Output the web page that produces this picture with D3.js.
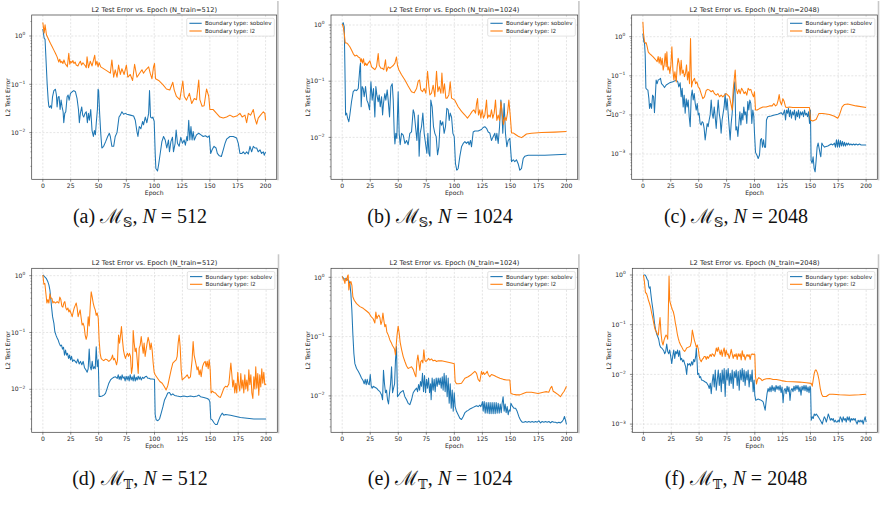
<!DOCTYPE html>
<html lang="en">
<head>
<meta charset="utf-8" />
<title>L2 Test Error vs. Epoch</title>
<script src="https://cdn.jsdelivr.net/npm/d3@7"></script>
<style>
  body { margin: 0; background: #fff; }
  svg { display: block; }
  text { font-family: "DejaVu Sans", sans-serif; fill: #262626; }
  .cap, .cap text { font-family: "Liberation Serif", "DejaVu Serif", serif; fill: #111; }
</style>
</head>
<body>
<svg id="fig" width="885" height="515"></svg>
<script>
// ---- data (epoch, L2 test error) ----
const titles = [
  "L2 Test Error vs. Epoch (N_train=512)",
  "L2 Test Error vs. Epoch (N_train=1024)",
  "L2 Test Error vs. Epoch (N_train=2048)",
  "L2 Test Error vs. Epoch (N_train=512)",
  "L2 Test Error vs. Epoch (N_train=1024)",
  "L2 Test Error vs. Epoch (N_train=2048)"
];
const capTags = ["(a)", "(b)", "(c)", "(d)", "(e)", "(f)"];
const capSets = ["𝕊", "𝕊", "𝕊", "𝕋", "𝕋", "𝕋"];
const capN = ["512", "1024", "2048", "512", "1024", "2048"];
const seriesNames = ["Boundary type: sobolev", "Boundary type: l2"];
const xTicks = [0, 25, 50, 75, 100, 125, 150, 175, 200];

const sobolevA = [[0,1.4],[1.2,0.9],[2,0.85],[3.9,0.1],[4.8,0.047],[5.4,0.035],[6,0.033],[6.9,0.036],[7.8,0.032],[8.7,0.055],[9.9,0.074],[11.3,0.079],[12.2,0.06],[12.8,0.034],[13.7,0.054],[14.6,0.056],[15.5,0.03],[16.4,0.047],[17.3,0.034],[18.2,0.027],[18.8,0.016],[19.7,0.025],[20.6,0.027],[21.8,0.055],[22.7,0.06],[23.6,0.047],[24.8,0.065],[26.3,0.07],[27.8,0.074],[29.3,0.07],[30.7,0.051],[32,0.03],[32.8,0.016],[33.7,0.025],[34.9,0.034],[35.8,0.023],[36.7,0.021],[37.9,0.025],[39,0.027],[40,0.016],[40.9,0.025],[41.8,0.018],[43,0.03],[44.2,0.011],[45.4,0.0083],[46.3,0.011],[47.2,0.009],[48,0.016],[49,0.03],[49.6,0.079],[50.1,0.074],[51,0.025],[52,0.0097],[53,0.0048],[54.6,0.0052],[56.4,0.0065],[58.2,0.0083],[59.7,0.0097],[60.6,0.0083],[62,0.0052],[63.6,0.0052],[65,0.0083],[66.6,0.01],[68.4,0.021],[69.6,0.023],[71,0.027],[72.5,0.024],[74,0.025],[75.5,0.024],[78.5,0.023],[81.5,0.022],[83,0.018],[84.5,0.0105],[85.4,0.0083],[86.6,0.0134],[88,0.012],[89.6,0.017],[90.4,0.0145],[92,0.021],[93.4,0.016],[95,0.025],[95.8,0.074],[96.7,0.021],[97.9,0.02],[98.8,0.021],[100,0.017],[100.9,0.0037],[101.5,0.0018],[103,0.0016],[104,0.0022],[105.4,0.0037],[106.9,0.0065],[108.4,0.0083],[109.9,0.007],[111.3,0.0048],[112.8,0.007],[113.7,0.004],[115,0.0065],[116.4,0.008],[117.3,0.004],[118.8,0.006],[119.7,0.0113],[120.9,0.006],[122.4,0.0052],[123.9,0.008],[125.4,0.006],[126.9,0.007],[128,0.0055],[129.3,0.0083],[130,0.0068],[131,0.018],[132,0.007],[133,0.0134],[134,0.007],[135,0.0105],[136,0.007],[138,0.009],[140,0.0097],[142,0.009],[144,0.0083],[146,0.0086],[148,0.008],[149.5,0.0086],[150.7,0.0037],[152,0.0044],[153.7,0.0052],[155.5,0.0048],[156.7,0.0037],[158.5,0.0033],[160.3,0.0032],[162,0.0044],[163.6,0.006],[165,0.0073],[168,0.0083],[171,0.0083],[174,0.0077],[175.5,0.006],[177,0.0037],[178.8,0.0037],[180,0.004],[181.5,0.0036],[183,0.004],[184.5,0.0036],[186,0.0052],[187.5,0.004],[189,0.0052],[190.4,0.0048],[192,0.0048],[193.4,0.004],[195,0.0044],[196.4,0.0037],[198,0.004],[198.8,0.0034],[200,0.004]];
const l2A = [[0,1.9],[1.2,1.15],[2,1.7],[3.3,1.05],[4.2,0.95],[5.4,0.83],[6.9,0.7],[8.4,0.6],[9.9,0.51],[11.3,0.44],[12.8,0.37],[14.3,0.29],[15.2,0.33],[16.1,0.28],[17,0.3],[18,0.27],[19,0.32],[20,0.27],[21,0.25],[22,0.23],[23.3,0.44],[24.2,0.26],[25.1,0.3],[26,0.28],[27,0.31],[28,0.27],[29,0.29],[30,0.25],[31.5,0.24],[32.5,0.27],[33.7,0.3],[34.8,0.25],[36,0.28],[37,0.26],[38.2,0.24],[39,0.22],[39.7,0.37],[41,0.22],[42.6,0.3],[44.2,0.24],[46.6,0.4],[47.5,0.25],[48.6,0.3],[49.6,0.23],[50.6,0.28],[52,0.23],[57.6,0.19],[60.6,0.17],[62,0.32],[63.6,0.14],[65,0.2],[66.6,0.14],[68,0.25],[69.6,0.16],[71,0.21],[73,0.16],[75,0.25],[76.4,0.14],[78.5,0.16],[80.6,0.12],[82.4,0.26],[84.5,0.14],[86.9,0.17],[89,0.2],[90.4,0.17],[92.5,0.2],[95,0.23],[96.4,0.17],[98,0.13],[99.4,0.23],[100.3,0.27],[101.2,0.13],[104,0.12],[108,0.097],[111,0.08],[114,0.076],[116.7,0.11],[118,0.076],[120,0.056],[123,0.048],[125.7,0.117],[127,0.056],[129,0.047],[131.6,0.065],[133.7,0.04],[136,0.051],[138,0.048],[140,0.123],[141,0.048],[143,0.035],[144.8,0.036],[147,0.08],[149,0.056],[150,0.03],[153,0.03],[156,0.025],[159,0.021],[162,0.02],[165,0.021],[168,0.023],[171,0.021],[174,0.022],[177,0.025],[179,0.021],[181.5,0.023],[183,0.016],[184.5,0.025],[186.6,0.023],[189,0.03],[190.4,0.02],[192,0.015],[193.4,0.02],[195.5,0.023],[198,0.027],[199.4,0.025],[200,0.018]];

const sobolevB = [[0,1.0],[0.9,1.1],[1.8,0.93],[2.4,0.18],[3,0.025],[3.9,0.027],[4.8,0.022],[5.9,0.019],[6.8,0.025],[8.3,0.043],[9.8,0.065],[11.3,0.07],[12.8,0.068],[14.3,0.074],[15.8,0.18],[16.3,0.21],[16.9,0.035],[17.8,0.08],[18.7,0.074],[19.6,0.053],[20.8,0.08],[22,0.046],[23.2,0.04],[24.4,0.031],[25.6,0.098],[26.7,0.046],[27.9,0.074],[29.1,0.023],[30,0.08],[30.9,0.057],[32.1,0.043],[33,0.057],[33.9,0.035],[35.1,0.053],[36,0.025],[36.8,0.04],[38,0.06],[38.9,0.046],[40.1,0.07],[41,0.046],[42.2,0.023],[43.4,0.08],[44.6,0.09],[45.5,0.046],[46.4,0.0118],[47,0.0076],[47.8,0.0118],[48.7,0.0096],[49.9,0.065],[50.8,0.0118],[51.7,0.0074],[52.9,0.0118],[54.4,0.011],[55.9,0.0078],[57.4,0.0088],[58.8,0.0074],[60.3,0.0118],[61.8,0.0125],[63.3,0.031],[64.2,0.027],[65.4,0.0155],[66.6,0.0088],[67.8,0.025],[68.6,0.0046],[69.5,0.0118],[70.7,0.0155],[71.9,0.027],[73.1,0.0118],[74.3,0.0078],[75.5,0.0052],[76.4,0.0118],[77.3,0.0052],[78.2,0.0046],[79,0.046],[80.2,0.035],[81.4,0.0155],[82.6,0.0118],[83.8,0.0103],[85,0.0049],[86.2,0.0068],[87.4,0.02],[88.6,0.0165],[89.7,0.019],[90.9,0.0118],[92.1,0.0155],[93.3,0.033],[94.5,0.031],[95.4,0.02],[96.3,0.027],[97.5,0.023],[98.7,0.0118],[99.9,0.0103],[101,0.0034],[102.2,0.0026],[103.4,0.0028],[104.9,0.0046],[106.4,0.0068],[107.9,0.0078],[109.4,0.0084],[110.8,0.0078],[112.3,0.0084],[113.2,0.0074],[114.4,0.0088],[115.3,0.0068],[116.8,0.0125],[118.3,0.013],[121.2,0.013],[124.2,0.0138],[125.7,0.015],[127.2,0.0155],[128.7,0.0145],[130.2,0.0125],[131.6,0.012],[133.1,0.0088],[134.6,0.0103],[136.1,0.0118],[137,0.0088],[137.9,0.0118],[139.1,0.0078],[140.3,0.0155],[141.5,0.046],[142.3,0.031],[143.2,0.0118],[144.4,0.04],[145.6,0.0118],[146.8,0.0068],[148,0.0088],[149.5,0.0096],[151,0.0037],[152.5,0.004],[153.9,0.0037],[155.4,0.004],[156.9,0.0034],[158.4,0.0026],[159.9,0.0028],[161.4,0.0042],[162.8,0.0046],[165.8,0.0048],[180.7,0.0048],[200,0.005]];
const l2B = [[0,1.04],[0.9,0.93],[1.8,0.71],[2.7,0.48],[3.9,0.48],[5.3,0.45],[6.8,0.41],[8.3,0.36],[9.8,0.31],[11.3,0.28],[12.8,0.29],[14.3,0.27],[15.8,0.26],[16.6,0.22],[17.2,0.25],[18.1,0.21],[19,0.25],[19.9,0.19],[20.8,0.21],[22,0.19],[23.2,0.21],[24.7,0.23],[26.2,0.18],[27.6,0.17],[29.1,0.16],[30.6,0.18],[32.1,0.31],[33,0.19],[34.5,0.17],[35.7,0.17],[37.1,0.16],[38.6,0.24],[39.5,0.15],[41,0.18],[42.5,0.17],[44,0.18],[45.5,0.19],[47,0.21],[48.4,0.27],[49.3,0.19],[50.5,0.16],[52.9,0.13],[55.9,0.105],[58.8,0.082],[61.8,0.065],[64.2,0.062],[66.3,0.074],[67.8,0.1],[69,0.105],[70.1,0.07],[71.6,0.065],[73.1,0.074],[74.6,0.061],[76.1,0.15],[77.3,0.08],[78.2,0.057],[79.6,0.061],[81.1,0.085],[82.6,0.053],[84.1,0.15],[85.3,0.065],[86.5,0.08],[88,0.061],[88.9,0.14],[90,0.061],[91.2,0.09],[92.4,0.05],[93.6,0.05],[95.1,0.057],[96.3,0.098],[97.5,0.05],[99,0.048],[100.4,0.046],[103.4,0.035],[106.4,0.029],[109.4,0.025],[111.7,0.022],[113.8,0.025],[115.9,0.029],[117.4,0.031],[118.9,0.027],[119.8,0.04],[120.7,0.049],[121.5,0.025],[122.7,0.031],[123.6,0.022],[124.8,0.031],[126,0.022],[127.2,0.025],[128.7,0.046],[129.6,0.022],[130.8,0.025],[132,0.023],[133.1,0.031],[134.3,0.022],[135.5,0.027],[136.7,0.046],[137.9,0.02],[139.1,0.025],[140.3,0.02],[141.5,0.043],[142.6,0.027],[143.8,0.017],[145,0.023],[146.2,0.02],[147.4,0.027],[148.6,0.046],[149.8,0.025],[151,0.012],[152.5,0.012],[153.9,0.0115],[156.9,0.0105],[159.9,0.0099],[162.3,0.0107],[164.3,0.0115],[168.8,0.0118],[177.7,0.0122],[189.6,0.0124],[200,0.0127]];

const sobolevC = [[0,1.2],[0.9,0.74],[1.5,0.68],[2.1,0.34],[2.7,0.048],[3.6,0.045],[4.5,0.043],[5.4,0.026],[6,0.0147],[6.9,0.0196],[7.8,0.0147],[8.7,0.032],[9.6,0.029],[10.4,0.0114],[11.3,0.035],[11.9,0.078],[12.8,0.063],[13.7,0.078],[14.9,0.081],[15.8,0.086],[16.7,0.063],[17.9,0.058],[19.4,0.05],[20.9,0.058],[23.9,0.066],[26.9,0.07],[29.9,0.078],[31.3,0.07],[32.2,0.052],[33.4,0.066],[34.3,0.029],[35.2,0.048],[36.1,0.016],[37,0.032],[37.9,0.011],[38.8,0.026],[39.7,0.016],[40.6,0.024],[41.5,0.009],[42.4,0.005],[43.3,0.029],[44.2,0.043],[45.1,0.024],[46,0.035],[46.9,0.0196],[47.8,0.0133],[48.7,0.0196],[49.6,0.01],[50.4,0.011],[51.3,0.006],[52.2,0.0055],[53.1,0.0067],[54,0.0063],[54.9,0.0045],[55.8,0.0023],[56.7,0.0037],[57.6,0.006],[58.5,0.005],[59.4,0.0074],[60.3,0.01],[61.2,0.024],[62.1,0.011],[63,0.0082],[63.9,0.016],[64.8,0.009],[65.7,0.0045],[66.6,0.011],[67.5,0.024],[68.4,0.011],[69.3,0.0074],[70.1,0.0034],[71,0.0074],[71.9,0.011],[72.8,0.016],[73.7,0.035],[74.6,0.0133],[75.5,0.026],[76.4,0.011],[77.3,0.005],[78.2,0.0023],[79.1,0.006],[80,0.011],[80.9,0.024],[81.8,0.058],[82.4,0.07],[83.3,0.0041],[84.2,0.005],[85.1,0.0028],[86,0.006],[86.9,0.012],[87.8,0.0055],[88.7,0.011],[89.6,0.0074],[90.4,0.016],[91.3,0.01],[92.2,0.012],[93.1,0.006],[94,0.022],[94.9,0.0133],[95.8,0.024],[96.7,0.0196],[97.6,0.006],[98.5,0.0133],[99.4,0.009],[100,0.0034],[100.9,0.0011],[102.1,0.00094],[103.3,0.00077],[104.5,0.00094],[105.4,0.0023],[106.3,0.0025],[107.2,0.0015],[108.1,0.0023],[109,0.0015],[109.9,0.0015],[110.7,0.0074],[111.9,0.009],[114.9,0.0094],[117.9,0.01],[120.9,0.0104],[123.9,0.0114],[125.4,0.01],[126.9,0.0133],[127.8,0.0074],[128.7,0.0133],[129.6,0.011],[130.4,0.0147],[131.3,0.009],[132.2,0.0133],[133.1,0.0082],[134,0.012],[134.9,0.01],[135.8,0.0133],[136.7,0.0074],[137.6,0.012],[138.5,0.009],[139.4,0.0133],[140.3,0.0082],[141.2,0.012],[142.1,0.01],[143,0.012],[143.9,0.009],[144.8,0.0133],[145.7,0.01],[146.6,0.011],[147.5,0.009],[148.4,0.012],[149.3,0.006],[150.1,0.0133],[150.7,0.00068],[151.6,0.00058],[152.5,0.00085],[153.4,0.00043],[154.3,0.00035],[155.2,0.00068],[156.1,0.0015],[157,0.0019],[157.9,0.0014],[158.8,0.001],[159.4,0.00085],[160.3,0.0019],[161.2,0.0017],[162.7,0.0015],[165.7,0.0016],[168.7,0.0018],[170.1,0.0017],[171.6,0.0019],[172.5,0.0015],[173.4,0.0023],[174.3,0.0015],[175.2,0.0023],[176.1,0.0015],[177,0.0022],[177.9,0.0016],[178.8,0.0021],[179.7,0.0016],[180.6,0.002],[181.5,0.0016],[182.4,0.0019],[183.3,0.0017],[184.2,0.0019],[185.1,0.0017],[186.3,0.0018],[187.5,0.0017],[188.7,0.0018],[189.9,0.0017],[191,0.0018],[192.5,0.0017],[194,0.0018],[195.5,0.0017],[197.6,0.0017],[200,0.0017]];
const l2C = [[0,2.4],[0.6,1.2],[1.5,0.74],[2.4,0.68],[3,0.7],[3.9,0.55],[4.8,0.41],[6,0.37],[7.5,0.34],[9,0.31],[10.4,0.28],[11.9,0.25],[12.8,0.23],[13.7,0.31],[14.6,0.21],[15.5,0.3],[16.4,0.19],[17.3,0.28],[18.2,0.14],[19.1,0.19],[20,0.37],[20.9,0.17],[21.5,0.41],[22.4,0.14],[23.3,0.17],[24.2,0.115],[25.1,0.19],[26,0.55],[26.9,0.14],[27.8,0.078],[28.7,0.127],[29.9,0.07],[30.7,0.17],[31.6,0.28],[32.5,0.21],[33.4,0.105],[34.3,0.25],[35.2,0.115],[36.1,0.14],[37.3,0.095],[38.2,0.115],[39.1,0.19],[40,0.078],[40.9,0.127],[41.8,0.063],[42.7,0.9],[43.6,0.052],[44.5,0.07],[45.4,0.078],[46.3,0.086],[47.2,0.063],[48.4,0.07],[49.6,0.052],[50.7,0.048],[52.2,0.035],[53.7,0.026],[55.2,0.029],[56.7,0.042],[58.2,0.045],[59.7,0.043],[61.2,0.039],[62.7,0.042],[64.2,0.035],[65.7,0.032],[67.2,0.035],[68.7,0.029],[70.1,0.032],[71.6,0.029],[73.1,0.032],[74.6,0.035],[76.1,0.032],[77.6,0.029],[78.8,0.0196],[80,0.0133],[80.9,0.043],[81.8,0.078],[82.7,0.14],[83.6,0.048],[84.8,0.035],[86,0.045],[87.2,0.035],[88.4,0.048],[89.6,0.042],[90.7,0.035],[91.9,0.039],[93.1,0.032],[94.3,0.048],[95.5,0.043],[96.7,0.045],[97.9,0.035],[99.1,0.029],[100,0.039],[100.9,0.0133],[102.4,0.0133],[104.5,0.0145],[107.5,0.016],[110.4,0.016],[113.4,0.017],[115.8,0.017],[117.3,0.0196],[118.8,0.017],[120,0.018],[121.2,0.024],[122.1,0.033],[123,0.022],[124.2,0.018],[125.4,0.026],[126.6,0.022],[127.8,0.016],[129,0.0155],[131.3,0.016],[134.3,0.0155],[140,0.0155],[149.3,0.0155],[150.1,0.0074],[152.2,0.007],[155.2,0.0076],[157.6,0.0108],[161.2,0.0108],[167.2,0.0103],[171.6,0.0092],[174.6,0.0082],[176.1,0.01],[178.5,0.016],[180.6,0.0185],[183.6,0.019],[191,0.017],[200,0.0155]];

const sobolevD = [[0,1.03],[1.5,0.96],[3,0.9],[4.5,0.78],[5.4,0.69],[6.3,0.56],[6.9,0.43],[7.8,0.28],[8.7,0.19],[9.9,0.145],[10.7,0.104],[11.9,0.088],[12.8,0.08],[13.7,0.074],[14.6,0.065],[15.8,0.058],[16.7,0.06],[17.6,0.051],[18.5,0.055],[19.4,0.04],[20.3,0.049],[21.2,0.04],[22.1,0.043],[23,0.035],[23.9,0.04],[24.8,0.033],[25.7,0.038],[26.6,0.031],[27.8,0.033],[29,0.031],[30.1,0.029],[31.3,0.034],[32.5,0.028],[33.7,0.031],[34.9,0.027],[36.1,0.031],[37.3,0.024],[38.5,0.022],[39.7,0.02],[40.6,0.023],[41.5,0.051],[42.4,0.025],[43.3,0.022],[44.2,0.031],[45.1,0.023],[46,0.025],[46.9,0.023],[47.8,0.056],[48.7,0.025],[49.6,0.033],[50.4,0.0075],[51.6,0.0075],[53.1,0.0076],[54.6,0.0079],[56.1,0.0085],[57.6,0.0104],[59.1,0.0128],[60.6,0.0146],[62.1,0.0156],[63.6,0.0163],[65.1,0.0166],[66.6,0.0156],[67.5,0.018],[68.4,0.015],[69.3,0.017],[70.1,0.0146],[71,0.018],[71.9,0.0156],[72.8,0.0166],[73.7,0.014],[74.6,0.017],[75.5,0.0146],[76.4,0.017],[77.3,0.014],[78.2,0.018],[79.1,0.0146],[80,0.0166],[80.9,0.014],[81.8,0.018],[82.7,0.014],[83.6,0.0163],[84.5,0.0146],[85.4,0.017],[86.3,0.015],[87.2,0.0166],[88.1,0.0146],[89.3,0.0163],[90.4,0.0156],[91.6,0.0166],[92.8,0.017],[94,0.0156],[95.2,0.0156],[96.4,0.0152],[97.9,0.0152],[99.4,0.015],[100,0.015],[100.6,0.0036],[101.5,0.0029],[103,0.0028],[104.5,0.003],[106,0.0038],[107.5,0.0049],[109,0.0065],[110.4,0.0074],[111.9,0.0086],[113.4,0.0088],[114.9,0.0079],[116.4,0.0083],[117.9,0.0078],[120.3,0.0076],[123.3,0.0074],[126.3,0.0076],[129.3,0.0074],[132.2,0.0076],[135.2,0.0074],[138.2,0.0076],[139.7,0.0079],[141.2,0.0074],[144.2,0.0072],[147.2,0.0069],[148.7,0.0066],[149.6,0.006],[150.4,0.003],[151.6,0.0029],[153.1,0.0026],[154.6,0.0024],[156.1,0.0024],[157.6,0.0029],[159.1,0.0034],[160.6,0.0038],[162.1,0.0035],[163.6,0.0036],[168.1,0.0035],[171,0.0034],[177,0.0032],[183,0.0031],[189,0.003],[194.9,0.003],[200,0.003]];
const l2D = [[0,1.03],[0.9,0.71],[1.8,0.73],[2.7,0.49],[3.6,0.33],[4.5,0.38],[5.4,0.33],[6.3,0.48],[7.2,0.4],[8.1,0.4],[9,0.33],[9.9,0.35],[11.3,0.33],[12.8,0.35],[14.3,0.33],[15.2,0.42],[16.1,0.38],[17,0.29],[17.9,0.28],[18.8,0.33],[19.7,0.35],[20.6,0.27],[21.5,0.25],[22.4,0.27],[23.3,0.23],[24.2,0.25],[25.1,0.22],[26.3,0.19],[27.2,0.23],[28.1,0.27],[29,0.3],[29.9,0.33],[30.7,0.27],[31.6,0.19],[32.5,0.22],[33.4,0.25],[34.3,0.18],[35.2,0.135],[36.1,0.145],[37,0.127],[37.9,0.09],[38.8,0.076],[39.7,0.09],[40.6,0.19],[41.5,0.13],[42.4,0.28],[43.3,0.52],[44.2,0.42],[45.1,0.33],[46,0.28],[46.9,0.25],[47.8,0.2],[48.7,0.22],[49.6,0.18],[50.4,0.074],[51.3,0.043],[52.2,0.035],[53.4,0.033],[54.6,0.032],[56.1,0.034],[57.6,0.033],[59.1,0.031],[60.6,0.033],[61.5,0.035],[62.4,0.04],[63.3,0.033],[64.2,0.035],[65.1,0.031],[66,0.027],[66.9,0.033],[67.8,0.09],[68.7,0.065],[69.6,0.09],[70.4,0.127],[71.3,0.074],[72.2,0.049],[73.1,0.04],[74,0.035],[74.9,0.04],[75.8,0.043],[76.7,0.038],[77.6,0.043],[78.5,0.038],[79.4,0.019],[80.3,0.025],[80.9,0.108],[81.8,0.065],[82.7,0.046],[83.6,0.053],[84.5,0.033],[85.4,0.019],[86.3,0.053],[87.2,0.06],[88.1,0.085],[89,0.06],[89.9,0.043],[90.7,0.065],[91.6,0.038],[92.5,0.05],[93.4,0.065],[94.3,0.082],[95.2,0.069],[96.1,0.05],[97,0.065],[97.9,0.049],[98.8,0.029],[99.7,0.02],[100.6,0.018],[102.4,0.016],[104.8,0.0137],[106.9,0.0128],[109,0.011],[110.4,0.0097],[111.9,0.0116],[113.4,0.016],[114.9,0.022],[116.4,0.029],[117.9,0.031],[119.4,0.033],[120.3,0.038],[121.2,0.065],[122.1,0.09],[123,0.056],[123.9,0.022],[124.8,0.0146],[126.3,0.0156],[127.8,0.0166],[129.3,0.018],[130.7,0.0156],[132.2,0.0166],[133.7,0.033],[134.6,0.069],[135.5,0.04],[136.4,0.033],[137.3,0.027],[138.2,0.022],[139.1,0.025],[140,0.018],[140.9,0.022],[141.8,0.0166],[143,0.025],[144.2,0.029],[145.4,0.031],[146.3,0.025],[147.2,0.031],[148.1,0.023],[149,0.033],[149.9,0.022],[150.7,0.0086],[151.9,0.0093],[153.1,0.0088],[154.6,0.0086],[156.1,0.0079],[157.6,0.0074],[159.1,0.0072],[160.6,0.0086],[162.1,0.0104],[163.6,0.0113],[165.1,0.011],[166.6,0.0124],[167.5,0.019],[168.4,0.029],[169.3,0.018],[170.1,0.011],[171,0.0146],[171.9,0.0086],[172.8,0.0128],[173.7,0.0086],[174.6,0.02],[175.5,0.012],[176.4,0.0093],[177.3,0.019],[178.2,0.0104],[179.1,0.0146],[180,0.0086],[180.9,0.018],[181.8,0.0101],[182.7,0.0146],[183.6,0.0093],[184.5,0.022],[185.4,0.012],[186.3,0.018],[187.2,0.0086],[188.1,0.0069],[189,0.0166],[189.9,0.0101],[190.7,0.025],[191.6,0.0104],[192.5,0.019],[193.4,0.0079],[194.3,0.018],[195.2,0.011],[196.1,0.023],[197,0.0128],[197.9,0.02],[198.8,0.012],[200,0.0124]];

const sobolevE = [[0,1.03],[1.2,0.96],[2.4,0.93],[3.6,0.96],[4.8,0.9],[5.9,0.88],[6.8,0.79],[7.7,0.54],[8.6,0.28],[9.5,0.11],[10.4,0.052],[11.3,0.035],[12.8,0.029],[14.3,0.026],[15.8,0.023],[17.2,0.02],[18.7,0.018],[19.6,0.016],[20.5,0.019],[21.4,0.0155],[22.3,0.019],[23.2,0.016],[24.1,0.0155],[25,0.023],[25.9,0.0145],[26.7,0.0135],[27.6,0.0145],[29.1,0.014],[30.6,0.0135],[32.1,0.0125],[33.6,0.0118],[35.1,0.0104],[36,0.0086],[36.8,0.027],[37.7,0.016],[38.6,0.0113],[39.5,0.0125],[40.4,0.0086],[41.3,0.0073],[42.2,0.0113],[43.1,0.016],[44,0.031],[44.9,0.0113],[45.8,0.0135],[46.7,0.016],[47.5,0.04],[48.4,0.068],[49.3,0.0097],[50.5,0.0104],[51.7,0.0113],[52.9,0.0118],[54.4,0.0123],[55.9,0.0097],[57.4,0.0086],[58.8,0.0075],[60.3,0.0071],[61.8,0.0086],[63.3,0.0113],[64.8,0.0125],[66.3,0.0135],[67.2,0.0118],[68.1,0.0155],[69,0.0125],[69.8,0.0175],[70.7,0.0145],[71.6,0.024],[72.5,0.0118],[73.4,0.022],[74.3,0.0113],[75.2,0.019],[76.1,0.0135],[77,0.02],[77.9,0.0113],[78.8,0.016],[79.3,0.0086],[80.2,0.02],[81.1,0.0125],[82,0.019],[82.9,0.0118],[83.8,0.02],[84.7,0.0145],[85.6,0.02],[86.5,0.0155],[87.4,0.02],[88.3,0.0135],[89.2,0.021],[90,0.0125],[90.9,0.024],[91.8,0.0118],[92.7,0.022],[93.6,0.0097],[94.5,0.02],[95.4,0.0075],[96.3,0.016],[97.2,0.0062],[98.1,0.0125],[99,0.0055],[99.9,0.0113],[100.7,0.0066],[101.9,0.0055],[103.4,0.0048],[104.9,0.0042],[106.4,0.004],[107.9,0.0045],[109.4,0.0052],[110.8,0.0055],[112.3,0.0057],[113.8,0.006],[115.3,0.0062],[116.8,0.0064],[118.3,0.0066],[119.8,0.0068],[121.2,0.0066],[122.7,0.007],[123.6,0.0066],[124.5,0.0073],[125.1,0.008],[125.7,0.0055],[126.6,0.008],[127.5,0.0051],[128.4,0.0077],[129.3,0.0051],[130.2,0.0077],[131.1,0.005],[131.9,0.0077],[132.8,0.005],[133.7,0.0077],[134.6,0.005],[135.5,0.0077],[136.4,0.005],[137.3,0.0077],[138.2,0.0051],[139.1,0.0075],[140,0.0051],[140.9,0.0073],[141.8,0.0052],[142.6,0.0075],[143.5,0.0097],[144.4,0.0055],[145.3,0.0073],[146.2,0.0052],[147.1,0.0066],[148,0.0048],[148.9,0.0058],[149.8,0.0055],[150.4,0.0075],[151.6,0.0068],[153.1,0.0062],[154.6,0.0062],[156,0.0055],[157.5,0.0045],[159,0.0039],[160.5,0.0036],[162,0.0036],[163.4,0.0037],[164.9,0.0036],[166.4,0.0037],[167.9,0.0036],[169.4,0.0037],[170.9,0.0036],[172.4,0.0037],[173.9,0.0036],[175.4,0.0038],[176.8,0.0035],[178.3,0.0037],[179.8,0.0036],[181.3,0.0037],[182.8,0.0036],[184.3,0.0037],[185.8,0.0035],[187.2,0.0037],[188.7,0.0036],[190.2,0.0036],[191.7,0.0035],[193.2,0.0036],[194.6,0.0035],[196.1,0.0037],[197.3,0.004],[198.2,0.0045],[199.1,0.0039],[200,0.0033]];
const l2E = [[0,1.03],[0.9,0.93],[1.8,0.88],[2.4,0.79],[3,0.96],[3.9,0.88],[4.8,1.05],[5.3,1.1],[5.9,0.61],[6.8,0.79],[7.7,0.85],[8.6,0.74],[9.5,0.47],[10.7,0.41],[12.8,0.36],[15.8,0.32],[18.7,0.3],[21.7,0.27],[23.8,0.25],[25.6,0.22],[27.6,0.2],[29.1,0.17],[30,0.26],[30.9,0.2],[31.8,0.22],[32.7,0.23],[33.6,0.21],[34.5,0.16],[35.4,0.18],[36.3,0.25],[37.1,0.19],[38,0.147],[38.9,0.16],[39.8,0.12],[41,0.107],[42.5,0.088],[44,0.077],[44.9,0.07],[45.8,0.066],[46.7,0.061],[47.5,0.049],[48.4,0.082],[49,0.11],[49.9,0.15],[50.8,0.114],[51.7,0.08],[52.9,0.061],[54.4,0.046],[55.9,0.038],[57.4,0.032],[58.8,0.029],[60.3,0.03],[61.8,0.031],[63.3,0.028],[64.8,0.023],[65.7,0.021],[66.6,0.038],[67.5,0.049],[68.4,0.036],[69.2,0.027],[70.1,0.038],[71,0.04],[71.9,0.036],[72.8,0.06],[73.7,0.04],[74.6,0.038],[75.8,0.04],[77,0.043],[78.2,0.04],[79.6,0.042],[81.1,0.039],[82.6,0.04],[84.1,0.038],[85.6,0.039],[88.6,0.039],[91.5,0.038],[94.5,0.037],[97.5,0.036],[99.9,0.035],[100.7,0.0175],[101.9,0.016],[104,0.016],[106.4,0.0163],[109.4,0.0198],[112.3,0.021],[115.3,0.023],[118.3,0.026],[119.8,0.024],[121.2,0.019],[122.7,0.0175],[124.2,0.026],[125.1,0.023],[126,0.025],[126.9,0.023],[128.1,0.024],[129.3,0.026],[130.2,0.023],[131.6,0.021],[133.1,0.023],[135.5,0.022],[137.6,0.021],[140.6,0.0198],[143.6,0.019],[146.5,0.0185],[149.5,0.0185],[150.4,0.011],[152.5,0.0107],[155.4,0.0104],[158.4,0.0104],[161.4,0.011],[164.3,0.0115],[168.8,0.0115],[174.7,0.011],[179.2,0.0115],[182.2,0.0118],[184.2,0.0115],[185.7,0.0135],[186.9,0.0145],[188.1,0.012],[189.6,0.0115],[192.6,0.0105],[194.6,0.0097],[196.4,0.011],[197.9,0.012],[200,0.0145]];

const sobolevF = [[0,1.0],[1.5,1.0],[2.4,0.93],[3.3,0.82],[4.2,0.77],[4.8,0.58],[5.4,0.54],[6,0.58],[6.6,0.43],[7.5,0.29],[8.4,0.21],[9.3,0.145],[10.1,0.1],[11,0.078],[11.9,0.065],[12.8,0.058],[13.7,0.051],[14.6,0.039],[15.5,0.035],[16.4,0.034],[17.3,0.032],[18.2,0.03],[19.1,0.026],[20,0.029],[20.9,0.041],[21.8,0.029],[22.7,0.026],[23.6,0.031],[24.5,0.023],[25.4,0.0165],[26.3,0.023],[27.2,0.031],[28.1,0.021],[29,0.029],[29.9,0.026],[30.7,0.031],[31.6,0.023],[32.5,0.03],[33.4,0.0195],[34.3,0.021],[35.2,0.018],[36.1,0.0195],[37,0.0165],[37.9,0.0143],[38.8,0.01],[39.7,0.0165],[40.6,0.0155],[41.5,0.0165],[42.4,0.0148],[43.3,0.018],[44.2,0.0155],[45.1,0.02],[46,0.018],[46.9,0.023],[47.5,0.034],[48.1,0.0195],[48.7,0.01],[49.6,0.0105],[50.4,0.0086],[51.3,0.009],[52.2,0.0077],[53.7,0.0075],[55.2,0.0071],[56.7,0.0068],[58.2,0.006],[59.1,0.0052],[60,0.0066],[60.9,0.0041],[61.8,0.0071],[62.7,0.01],[63.6,0.0056],[64.5,0.0122],[65.4,0.0048],[66.3,0.0077],[67.2,0.0122],[68.1,0.006],[69,0.0105],[69.9,0.0045],[70.7,0.0122],[71.6,0.0066],[72.5,0.0132],[73.4,0.0036],[74.3,0.0122],[75.2,0.0077],[76.1,0.0132],[77,0.006],[77.9,0.0105],[78.8,0.0066],[79.7,0.0122],[80.6,0.0052],[81.5,0.0114],[82.4,0.0086],[83.3,0.0122],[84.2,0.006],[85.1,0.0114],[86,0.0048],[86.9,0.0122],[87.8,0.0077],[88.7,0.0132],[89.6,0.0071],[90.4,0.0122],[91.3,0.006],[92.2,0.0114],[93.1,0.0077],[94,0.0122],[94.9,0.0056],[95.8,0.01],[96.7,0.0071],[97.6,0.0122],[98.5,0.0045],[99.4,0.0077],[100,0.0038],[100.9,0.003],[101.8,0.0031],[103,0.0032],[104.5,0.0031],[106,0.003],[107.5,0.0028],[108.4,0.0023],[109.3,0.0019],[110.1,0.0028],[111,0.0041],[111.9,0.0052],[112.8,0.0045],[113.7,0.0056],[114.6,0.0045],[115.5,0.006],[116.4,0.0047],[117.3,0.0056],[118.2,0.0045],[119.1,0.006],[120,0.005],[120.9,0.0058],[121.8,0.0048],[122.7,0.006],[123.6,0.0043],[124.5,0.0056],[125.4,0.0027],[126.3,0.0048],[127.2,0.0052],[128.1,0.0041],[129,0.0058],[129.9,0.0045],[130.7,0.0056],[131.6,0.003],[132.5,0.0048],[133.4,0.0052],[134.3,0.0045],[135.2,0.0058],[136.1,0.0047],[137,0.006],[137.9,0.005],[138.8,0.006],[139.7,0.0045],[140.6,0.0056],[141.5,0.0038],[142.4,0.0058],[143.3,0.0048],[144.2,0.006],[145.1,0.0047],[146,0.006],[146.9,0.0045],[147.8,0.0056],[148.7,0.0043],[149.6,0.0058],[150.1,0.0052],[150.7,0.0012],[151.6,0.0014],[152.5,0.0013],[153.4,0.0016],[154.3,0.0015],[155.2,0.0016],[156.1,0.0015],[157,0.0014],[157.9,0.0013],[158.8,0.0012],[159.7,0.0011],[160.6,0.001],[161.5,0.0012],[162.4,0.0014],[163.3,0.0013],[164.2,0.0011],[165.1,0.0013],[166,0.0016],[166.9,0.0014],[167.8,0.0012],[168.7,0.0013],[169.6,0.0012],[170.4,0.0013],[171.3,0.0011],[172.2,0.0012],[173.1,0.0011],[174,0.0011],[174.9,0.0012],[175.8,0.0011],[176.7,0.0014],[177.6,0.0013],[178.5,0.0011],[179.4,0.0014],[180.3,0.0012],[181.2,0.0013],[182.1,0.0011],[183,0.0014],[183.9,0.0012],[184.8,0.0014],[185.7,0.0011],[186.6,0.0013],[187.5,0.0012],[188.4,0.0013],[189.3,0.0012],[190.1,0.0013],[191,0.0011],[191.9,0.001],[192.8,0.0012],[193.7,0.0011],[194.6,0.0012],[195.5,0.0011],[196.4,0.0012],[197.3,0.001],[198.2,0.0012],[199.1,0.0014],[200,0.0011]];
const l2F = [[0,1.0],[0.9,0.73],[1.8,0.44],[2.7,0.43],[3.6,0.37],[4.5,0.31],[5.4,0.27],[6.3,0.23],[7.2,0.18],[8.1,0.145],[9,0.115],[9.9,0.09],[10.7,0.078],[11.6,0.072],[12.5,0.065],[13.4,0.062],[14,0.09],[14.9,0.14],[15.8,0.067],[16.7,0.045],[17.6,0.039],[18.5,0.049],[19.4,0.056],[20.3,0.062],[21.2,0.058],[21.8,0.051],[22.4,0.2],[23,0.95],[23.6,0.31],[24.2,0.27],[25.1,0.23],[26,0.2],[26.9,0.18],[27.8,0.145],[28.7,0.107],[29.6,0.085],[30.4,0.065],[31.3,0.053],[32.2,0.045],[33.4,0.039],[34.6,0.035],[35.8,0.031],[37,0.029],[37.9,0.031],[38.8,0.034],[40,0.035],[41.2,0.036],[42.1,0.037],[43,0.045],[43.9,0.078],[44.8,0.062],[45.7,0.049],[46.6,0.042],[47.5,0.035],[48.4,0.039],[49.3,0.032],[50.1,0.023],[51,0.0195],[51.9,0.018],[52.8,0.02],[53.7,0.021],[54.6,0.023],[55.5,0.023],[56.4,0.02],[57.3,0.023],[58.2,0.021],[59.1,0.023],[60,0.025],[60.9,0.023],[61.8,0.026],[62.7,0.025],[63.6,0.023],[64.5,0.026],[65.4,0.034],[66.3,0.029],[67.2,0.035],[68.1,0.029],[69,0.025],[69.9,0.031],[70.7,0.023],[71.6,0.029],[72.5,0.034],[73.4,0.023],[74.3,0.031],[75.2,0.025],[76.1,0.026],[77,0.021],[77.9,0.025],[78.8,0.032],[79.7,0.026],[80.6,0.021],[81.5,0.025],[82.4,0.023],[83.3,0.026],[84.2,0.02],[85.1,0.026],[86,0.023],[86.9,0.026],[87.8,0.0195],[88.7,0.03],[89.6,0.023],[90.4,0.025],[91.3,0.0195],[92.2,0.023],[93.1,0.025],[94,0.023],[94.9,0.025],[95.8,0.02],[96.7,0.025],[97.6,0.026],[98.5,0.025],[99.4,0.026],[100,0.025],[100.6,0.0093],[101.5,0.0064],[102.4,0.0079],[103.6,0.0086],[105.1,0.0082],[106.6,0.0075],[108.1,0.0079],[110.4,0.0082],[113.4,0.0083],[116.4,0.0079],[119.4,0.0079],[123.9,0.0075],[128.4,0.0072],[134.3,0.0071],[140.3,0.007],[146.3,0.0068],[150.7,0.0066],[151.6,0.0058],[152.5,0.0079],[153.4,0.0105],[154.3,0.0122],[155.2,0.0122],[156.4,0.0105],[157.6,0.0079],[158.8,0.0052],[160,0.004],[161.2,0.0036],[162.7,0.0036],[164.2,0.0036],[165.7,0.0038],[167.2,0.004],[170.1,0.004],[176.1,0.0039],[185.1,0.0038],[194,0.0039],[200,0.004]];

// ---- layout of the six small figures (page px) ----
const panels = [
  { s: sobolevA, l: l2A, left: 31.7,  right: 276.7, top: 15,    bottom: 179.3, lo: -2.967, hi: 0.435, ylab: 8.3 },
  { s: sobolevB, l: l2B, left: 331,   right: 577.7, top: 15,    bottom: 179.3, lo: -2.746, hi: 0.178, ylab: 308.3 },
  { s: sobolevC, l: l2C, left: 631.7, right: 877.3, top: 15,    bottom: 179.3, lo: -3.647, hi: 0.555, ylab: 609.3 },
  { s: sobolevD, l: l2D, left: 31.7,  right: 277.3, top: 268.3, bottom: 432.3, lo: -2.757, hi: 0.130, ylab: 8.3 },
  { s: sobolevE, l: l2E, left: 331,   right: 577.7, top: 268.3, bottom: 432.3, lo: -2.614, hi: 0.152, ylab: 308.3 },
  { s: sobolevF, l: l2F, left: 632.3, right: 877.3, top: 268.3, bottom: 432.3, lo: -3.165, hi: 0.135, ylab: 609.3 }
];
const capCenters = [140, 440, 736, 140, 440, 736];
const capBase = [223, 223, 223, 485, 485, 485];
const blue = "#1f77b4", orange = "#ff7f0e";

const svg = d3.select("#fig");

panels.forEach(function (p, i) {
  const g = svg.append("g");
  const x = d3.scaleLinear().domain([-10, 210]).range([p.left, p.right]);
  const y = d3.scaleLog().domain([Math.pow(10, p.lo), Math.pow(10, p.hi)]).range([p.bottom, p.top]);

  // grey edge on the right of each small figure
  g.append("line")
    .attr("x1", p.right + 1.2).attr("x2", p.right + 1.2)
    .attr("y1", p.top - 14).attr("y2", p.bottom + 1)
    .attr("stroke", "#c8c8c8").attr("stroke-width", 1.6);

  // grid
  const exps = d3.range(Math.ceil(p.lo), Math.floor(p.hi) + 1);
  g.selectAll(".gx").data(xTicks).join("line")
    .attr("x1", d => x(d)).attr("x2", d => x(d))
    .attr("y1", p.top).attr("y2", p.bottom)
    .attr("stroke", "#d4d4d4").attr("stroke-width", 0.6).attr("stroke-dasharray", "2,1.6");
  g.selectAll(".gy").data(exps).join("line")
    .attr("x1", p.left).attr("x2", p.right)
    .attr("y1", d => y(Math.pow(10, d))).attr("y2", d => y(Math.pow(10, d)))
    .attr("stroke", "#d4d4d4").attr("stroke-width", 0.6).attr("stroke-dasharray", "2,1.6");

  // lines
  const clipId = "clip" + i;
  g.append("clipPath").attr("id", clipId).append("rect")
    .attr("x", p.left).attr("y", p.top).attr("width", p.right - p.left).attr("height", p.bottom - p.top);
  const line = d3.line().x(d => x(d[0])).y(d => y(d[1]));
  g.append("path").datum(p.s).attr("d", line).attr("fill", "none")
    .attr("stroke", blue).attr("stroke-width", 1.05).attr("stroke-linejoin", "round")
    .attr("clip-path", "url(#" + clipId + ")");
  g.append("path").datum(p.l).attr("d", line).attr("fill", "none")
    .attr("stroke", orange).attr("stroke-width", 1.05).attr("stroke-linejoin", "round")
    .attr("clip-path", "url(#" + clipId + ")");

  // frame
  g.append("rect").attr("x", p.left).attr("y", p.top)
    .attr("width", p.right - p.left).attr("height", p.bottom - p.top)
    .attr("fill", "none").attr("stroke", "#3a3a3a").attr("stroke-width", 0.7);

  // x ticks
  g.selectAll(".tx").data(xTicks).join("line")
    .attr("x1", d => x(d)).attr("x2", d => x(d))
    .attr("y1", p.bottom).attr("y2", p.bottom + 2.4)
    .attr("stroke", "#3a3a3a").attr("stroke-width", 0.6);
  g.selectAll(".lx").data(xTicks).join("text")
    .attr("x", d => x(d)).attr("y", p.bottom + 8.7)
    .attr("text-anchor", "middle").style("font-size", "6.1px")
    .text(d => d);

  // y ticks (major + minor)
  g.selectAll(".ty").data(exps).join("line")
    .attr("x1", p.left - 2.4).attr("x2", p.left)
    .attr("y1", d => y(Math.pow(10, d))).attr("y2", d => y(Math.pow(10, d)))
    .attr("stroke", "#3a3a3a").attr("stroke-width", 0.6);
  const minors = [];
  for (let e = Math.floor(p.lo); e <= Math.ceil(p.hi); e++) {
    for (let k = 2; k <= 9; k++) {
      const v = k * Math.pow(10, e);
      if (Math.log10(v) > p.lo && Math.log10(v) < p.hi) minors.push(v);
    }
  }
  g.selectAll(".my").data(minors).join("line")
    .attr("x1", p.left - 1.4).attr("x2", p.left)
    .attr("y1", d => y(d)).attr("y2", d => y(d))
    .attr("stroke", "#3a3a3a").attr("stroke-width", 0.4);
  const yl = g.selectAll(".ly").data(exps).join("text")
    .attr("x", p.left - 6.5).attr("y", d => y(Math.pow(10, d)) + 2.2)
    .attr("text-anchor", "end").style("font-size", "6.1px");
  yl.append("tspan").text("10");
  yl.append("tspan").attr("dy", -2.8).style("font-size", "4.4px")
    .text(d => d === 0 ? "0" : "\u2212" + Math.abs(d));

  // titles and axis labels
  g.append("text").attr("x", (p.left + p.right) / 2).attr("y", p.top - 3.4)
    .attr("text-anchor", "middle").style("font-size", "6.7px").text(titles[i]);
  g.append("text").attr("x", (p.left + p.right) / 2).attr("y", p.bottom + 16)
    .attr("text-anchor", "middle").style("font-size", "6.1px").text("Epoch");
  g.append("text")
    .attr("transform", `translate(${p.ylab + 2},${(p.top + p.bottom) / 2}) rotate(-90)`)
    .attr("text-anchor", "middle").style("font-size", "6.1px").text("L2 Test Error");

  // legend
  const lx = p.right - 90, ly = p.top + 3.3;
  const leg = g.append("g");
  leg.append("rect").attr("x", lx).attr("y", ly).attr("width", 87.6).attr("height", 17.8)
    .attr("rx", 1.5).attr("fill", "#fff").attr("fill-opacity", 0.85)
    .attr("stroke", "#d0d0d0").attr("stroke-width", 0.6);
  [blue, orange].forEach(function (c, j) {
    const yy = ly + 5 + j * 7.7;
    leg.append("line").attr("x1", lx + 2.7).attr("x2", lx + 15).attr("y1", yy).attr("y2", yy)
      .attr("stroke", c).attr("stroke-width", 1.1);
    leg.append("text").attr("x", lx + 18.3).attr("y", yy + 2)
      .style("font-size", "5.6px").text(seriesNames[j]);
  });

  // sub-figure caption
  const cap = svg.append("text").attr("class", "cap")
    .attr("x", capCenters[i]).attr("y", capBase[i])
    .attr("text-anchor", "middle").style("font-size", "20px");
  cap.append("tspan").text(capTags[i] + " ");
  cap.append("tspan").text("\u2133");
  cap.append("tspan").attr("dy", 4).style("font-size", "13px").text(capSets[i]);
  cap.append("tspan").attr("dy", -4).text(", ");
  cap.append("tspan").style("font-style", "italic").text("N");
  cap.append("tspan").text(" = " + capN[i]);
});

// first line of the figure caption, cut by the page edge as in the reference
svg.append("text").attr("class", "cap").attr("x", 118).attr("y", 526.5)
  .style("font-size", "17px")
  .text("Comparison of the L\u00b2 test error for the different boundary types");
</script>
</body>
</html>
